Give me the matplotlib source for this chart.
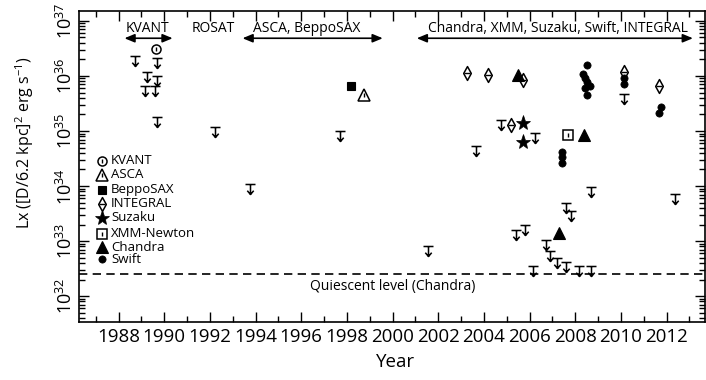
import matplotlib
matplotlib.use('Agg')
import matplotlib.pyplot as plt
from matplotlib.path import Path
from matplotlib.ticker import MultipleLocator, LogLocator, NullFormatter, LogFormatterSciNotation

plt.rcParams['font.family'] = ['Open Sans', 'DejaVu Sans']
plt.rcParams['mathtext.fontset'] = 'custom'
plt.rcParams['mathtext.rm'] = 'Open Sans'
plt.rcParams['mathtext.it'] = 'Open Sans:italic'
plt.rcParams['mathtext.bf'] = 'Open Sans:bold'

# ---------------- data (year, Lx in erg/s) ----------------
ul_year = [1988.74, 1989.68, 1989.26, 1989.68, 1989.18, 1989.61, 1989.68, 1992.21,
           1997.68, 1993.74, 2001.56, 2003.67, 2004.74, 2006.23, 2005.42, 2005.82,
           2006.16, 2006.70, 2006.89, 2007.18, 2007.59, 2007.59, 2007.80, 2008.17,
           2008.67, 2008.71, 2010.14, 2012.37]
ul_lx = [2.3e36, 2.1e36, 1.2e36, 1.0e36, 6.6e35, 6.6e35, 1.8e35, 1.2e35,
         9.8e34, 1.1e34, 8.1e32, 5.4e34, 1.6e35, 9.3e34, 1.6e33, 1.95e33,
         3.6e32, 1.05e33, 6.5e32, 5.0e32, 4.2e32, 4.9e33, 3.5e33, 3.6e32,
         9.8e33, 3.6e32, 4.7e35, 7.1e33]

kvant_year = [1989.65]
kvant_lx = [3.1e36]
asca_year = [1998.74]
asca_lx = [4.5e35]
sax_year = [1998.20]
sax_lx = [6.6e35]
integral_year = [2003.27, 2004.20, 2005.72, 2005.20, 2010.14, 2011.68]
integral_lx = [1.15e36, 1.05e36, 8.5e35, 1.3e35, 1.2e36, 6.6e35]
suzaku_year = [2005.70, 2005.69]
suzaku_lx = [1.4e35, 6.2e34]
xmm_year = [2007.69]
xmm_lx = [8.5e34]
chandra_year = [2005.50, 2008.39, 2007.28]
chandra_lx = [1.05e36, 8.5e34, 1.4e33]
swift_year = [2008.50, 2008.35, 2008.42, 2008.50, 2008.64, 2008.42, 2008.50,
              2010.14, 2010.14, 2011.74, 2011.65, 2007.44, 2007.44, 2007.44]
swift_lx = [1.6e36, 1.1e36, 9.1e35, 7.9e35, 6.5e35, 6.0e35, 4.5e35,
            9.1e35, 7.1e35, 2.75e35, 2.1e35, 4.2e34, 3.4e34, 2.6e34]

quiescent_lx = 2.5e32

era_labels = ['KVANT', 'ROSAT', 'ASCA, BeppoSAX', 'Chandra, XMM, Suzaku, Swift, INTEGRAL']
era_label_x = [1989.27, 1992.16, 1996.22, 2007.22]
era_arrows = [(1988.26, 1990.37), (1993.43, 1999.57), (2001.06, 2013.15)]

legend_names = ['KVANT', 'ASCA', 'BeppoSAX', 'INTEGRAL', 'Suzaku', 'XMM-Newton', 'Chandra', 'Swift']

# ---------------- figure ----------------
fig = plt.figure(figsize=(7.06, 3.8), dpi=100)
ax = fig.add_axes([79 / 706, 1 - 322 / 380, 626 / 706, 311 / 380])
ax.set_yscale('log')
ax.set_xlim(1986.27, 2013.68)
ax.set_ylim(10 ** 31.53, 10 ** 37.18)

# upper-limit marker: bar with downward arrow
ul_path = Path([(-0.5, 0), (0.5, 0), (0, 0), (0, -1), (-0.32, -0.62), (0, -1), (0.32, -0.62)],
               [Path.MOVETO, Path.LINETO, Path.MOVETO, Path.LINETO, Path.MOVETO, Path.LINETO, Path.LINETO])
# narrow diamond for INTEGRAL
diamond_path = Path([(0, 1), (0.55, 0), (0, -1), (-0.55, 0), (0, 1)],
                    [Path.MOVETO, Path.LINETO, Path.LINETO, Path.LINETO, Path.CLOSEPOLY])

K = 'black'
styles = {
    'KVANT': dict(marker='o', ms=6.5, mfc='white', mec=K, mew=1.1),
    'ASCA': dict(marker='^', ms=8.5, mfc='white', mec=K, mew=1.1),
    'BeppoSAX': dict(marker='s', ms=5.5, mfc=K, mec=K, mew=0.8),
    'INTEGRAL': dict(marker=diamond_path, ms=10, mfc='white', mec=K, mew=1.1),
    'Suzaku': dict(marker='*', ms=11, mfc=K, mec=K, mew=0.5),
    'XMM-Newton': dict(marker='s', ms=7, mfc='white', mec=K, mew=1.1),
    'Chandra': dict(marker='^', ms=8, mfc=K, mec=K, mew=0.8),
    'Swift': dict(marker='o', ms=5.2, mfc=K, mec=K, mew=0.5),
}
inner = {
    'KVANT': dict(marker='|', ms=3, mec=K, mew=1.0),
    'ASCA': dict(marker='|', ms=3, mec=K, mew=1.0),
    'XMM-Newton': dict(marker='|', ms=3, mec=K, mew=1.0),
    'INTEGRAL': dict(marker='_', ms=5.0, mec=K, mew=1.0),
}

ax.axhline(quiescent_lx, color=K, lw=1.2, dashes=(5, 3.2))

ax.plot(ul_year, ul_lx, ls='none', marker=ul_path, ms=14.4, mfc='none', mec=K, mew=1.1)

series = {
    'KVANT': (kvant_year, kvant_lx),
    'ASCA': (asca_year, asca_lx),
    'BeppoSAX': (sax_year, sax_lx),
    'INTEGRAL': (integral_year, integral_lx),
    'Suzaku': (suzaku_year, suzaku_lx),
    'XMM-Newton': (xmm_year, xmm_lx),
    'Chandra': (chandra_year, chandra_lx),
    'Swift': (swift_year, swift_lx),
}
for name, (xs, ys) in series.items():
    ax.plot(xs, ys, ls='none', **styles[name])
    if name in inner:
        ax.plot(xs, ys, ls='none', **inner[name])

# legend (manual)
leg_y = [0.519, 0.474, 0.426, 0.381, 0.335, 0.283, 0.240, 0.201]
for name, yy in zip(legend_names, leg_y):
    ax.plot([0.036], [yy], transform=ax.transAxes, ls='none', clip_on=False, **styles[name])
    if name in inner:
        ax.plot([0.036], [yy], transform=ax.transAxes, ls='none', clip_on=False, **inner[name])
    ax.text(0.051, yy, name, transform=ax.transAxes, ha='left', va='center', fontsize=9.5)

# era annotations
for lab, xx in zip(era_labels, era_label_x):
    ax.text(xx, 10 ** 36.87, lab, ha='center', va='center', fontsize=10)
for x1, x2 in era_arrows:
    ax.annotate('', xy=(x2, 10 ** 36.685), xytext=(x1, 10 ** 36.685),
                arrowprops=dict(arrowstyle='<|-|>,head_length=0.6,head_width=0.25',
                                color=K, lw=1.2, shrinkA=0, shrinkB=0, mutation_scale=10))

ax.text(2000.0, 10 ** 32.17, 'Quiescent level (Chandra)', ha='center', va='center', fontsize=10)

# axes styling
ax.xaxis.set_major_locator(MultipleLocator(2))
ax.xaxis.set_minor_locator(MultipleLocator(1))
ax.yaxis.set_major_locator(LogLocator(base=10, numticks=20))
ax.yaxis.set_minor_locator(LogLocator(base=10, subs=[2, 3, 4, 5, 6, 7, 8, 9], numticks=20))
ax.yaxis.set_minor_formatter(NullFormatter())
ax.yaxis.set_major_formatter(LogFormatterSciNotation())
ax.tick_params(which='both', direction='in', top=True, right=True, width=1.0)
ax.tick_params(which='major', length=7)
ax.tick_params(which='minor', length=4)
ax.tick_params(axis='x', which='major', labelsize=13.5, pad=4)
ax.tick_params(axis='y', which='major', labelsize=13, pad=2)
for lbl in ax.get_yticklabels():
    lbl.set_rotation(90)
    lbl.set_va('center')
for s in ax.spines.values():
    s.set_linewidth(1.2)

ax.set_xlabel('Year', fontsize=13.5)
ax.xaxis.set_label_coords(0.505, -0.1)
ax.set_ylabel(r'Lx ([D/6.2 kpc]$^{2}$ erg s$^{-1}$)', fontsize=11.5)
ax.yaxis.set_label_coords(-0.069, 0.578)

fig.savefig('out.png', dpi=100)
